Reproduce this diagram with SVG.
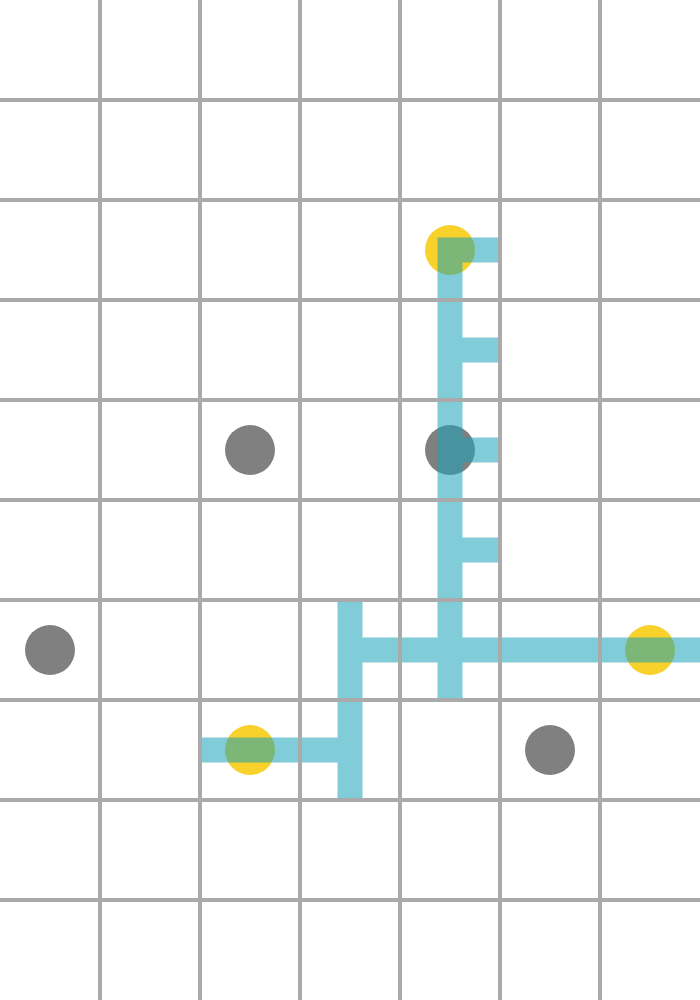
<svg xmlns="http://www.w3.org/2000/svg" width="700" height="1000" viewBox="0 0 700 1000">
<style>
.grid line{stroke:#aaaaaa;stroke-width:4}
.dot-y{fill:#f8d12b}
.dot-g{fill:#808080}
.bar{fill:#17a2b8;fill-opacity:0.55}
</style>
<rect width="700" height="1000" fill="#ffffff"/>
<g id="nodes">
<circle id="y1" class="dot-y" cx="450" cy="250" r="25"/>
<circle id="y2" class="dot-y" cx="650" cy="650" r="25"/>
<circle id="y3" class="dot-y" cx="250" cy="750" r="25"/>
<circle id="g1" class="dot-g" cx="250" cy="450" r="25"/>
<circle id="g2" class="dot-g" cx="450" cy="450" r="25"/>
<circle id="g3" class="dot-g" cx="50" cy="650" r="25"/>
<circle id="g4" class="dot-g" cx="550" cy="750" r="25"/>
</g>
<path id="connectors" class="bar" d="M437.5,237.5H500V262.5H462.5V337.5H500V362.5H462.5V437.5H500V462.5H462.5V537.5H500V562.5H462.5V637.5H700V662.5H462.5V700H437.5V662.5H362.5V800H337.5V762.5H200V737.5H337.5V600H362.5V637.5H437.5Z"/>
<g class="grid">
<line x1="100" y1="0" x2="100" y2="1000"/>
<line x1="200" y1="0" x2="200" y2="1000"/>
<line x1="300" y1="0" x2="300" y2="1000"/>
<line x1="400" y1="0" x2="400" y2="1000"/>
<line x1="500" y1="0" x2="500" y2="1000"/>
<line x1="600" y1="0" x2="600" y2="1000"/>
<line x1="0" y1="100" x2="700" y2="100"/>
<line x1="0" y1="200" x2="700" y2="200"/>
<line x1="0" y1="300" x2="700" y2="300"/>
<line x1="0" y1="400" x2="700" y2="400"/>
<line x1="0" y1="500" x2="700" y2="500"/>
<line x1="0" y1="600" x2="700" y2="600"/>
<line x1="0" y1="700" x2="700" y2="700"/>
<line x1="0" y1="800" x2="700" y2="800"/>
<line x1="0" y1="900" x2="700" y2="900"/>
</g>
</svg>
